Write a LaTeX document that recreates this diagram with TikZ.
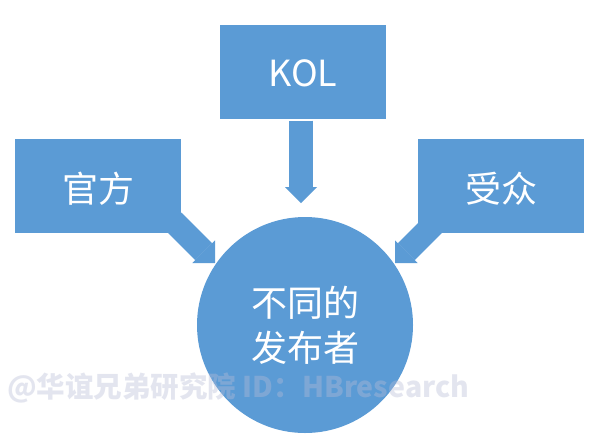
\documentclass[tikz,border=0pt]{standalone}
\usepackage{fontspec}
\newfontfamily\cjk{Noto Sans CJK SC}
\usetikzlibrary{arrows.meta,calc}
\definecolor{blu}{HTML}{5B9BD5}
\definecolor{wm}{HTML}{B8BDD6}
\begin{document}
\begin{tikzpicture}[x=1pt,y=-1pt,
  box/.style={rectangle,fill=blu,minimum width=166pt,minimum height=94pt,inner sep=0pt},
  boxtext/.style={text=white,inner sep=0pt,font=\cjk\fontsize{36}{45}\selectfont},
  pubnode/.style={circle,fill=blu,minimum size=216pt,inner sep=0pt,text=white,align=center,
    font=\cjk\fontsize{36}{45}\selectfont},
  arr/.style={blu,line width=24pt,-{Triangle[width=32pt,length=16pt,line width=0pt]}},
  wmark/.style={text=wm,opacity=0.38,font=\cjk\bfseries\fontsize{28.5}{28.5}\selectfont,inner sep=0pt,anchor=west}]
\useasboundingbox (0,0) rectangle (601,445);
\fill[white] (0,0) rectangle (601,445);
\node[box] (gf) at (98,186) {};
\node[box] (sz) at (501,186) {};
\node[box] (kol) at (303,71.5) {};
\node[pubnode] (pub) at (305,325) {不同的\\发布者};
\node[boxtext] (gft) at ($(gf.center)+(0,3)$) {官方};
\node[boxtext] (szt) at ($(sz.center)+(0,3)$) {受众};
\node[boxtext] (kolt) at ($(kol.center)+(0,2)$) {KOL};
% arrows
\coordinate (lt) at ($(pub.center)+(-90,-62)$);
\coordinate (ls) at ($(lt)+(-42,-42)$);
\coordinate (rt) at ($(pub.center)+(90,-62)$);
\coordinate (rs) at ($(rt)+(42,-42)$);
\coordinate (kt) at ($(pub.center)+(-4,-122)$);
\draw[arr] (ls) -- (lt);
\draw[arr] (rs) -- (rt);
\draw[arr,shorten <=2pt] (kol.south -| kt) -- (kt);
\node[wmark] (wmk) at (7,388) {@华谊兄弟研究院 ID：HBresearch};
\end{tikzpicture}
\end{document}
